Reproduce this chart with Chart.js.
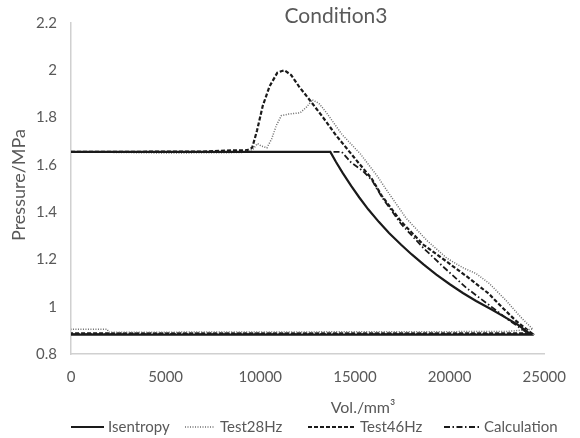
<!DOCTYPE html>
<html>
<head>
<meta charset="utf-8">
<script src="https://cdn.jsdelivr.net/npm/chart.js@4.4.1/dist/chart.umd.min.js"></script>
<style>
  body { margin: 0; background: #fff; }
  canvas { display: block; }
</style>
</head>
<body>
<canvas id="pvChart" width="580" height="438"></canvas>
<script>
// Axis ticks
const volTicks = [0, 5000, 10000, 15000, 20000, 25000];
const presTicks = [0.8, 1, 1.2, 1.4, 1.6, 1.8, 2, 2.2];

// Isentropy (solid)
const isentropyVol = [0, 13700, 14000, 14350, 14800, 15230, 15700, 16260, 16800, 17440, 18000, 18620, 19300, 20010, 20700, 21400, 22200, 22940, 23600, 24300, 0];
const isentropyPres = [1.655, 1.655, 1.612, 1.566, 1.511, 1.462, 1.412, 1.359, 1.312, 1.262, 1.221, 1.179, 1.136, 1.095, 1.058, 1.024, 0.989, 0.955, 0.924, 0.882, 0.882];

// Test 28 Hz (dotted)
const test28Vol = [0, 5000, 9000, 9600, 9850, 10050, 10350, 10600, 10850, 11110, 11500, 12100, 12450, 12750, 13100, 13500, 14300, 15300, 16200, 16700, 17700, 18800, 19860, 20700, 21400, 22070, 22940, 23770, 24400, 23000, 2000, 1900, 0];
const test28Pres = [1.655, 1.65, 1.652, 1.665, 1.69, 1.68, 1.672, 1.71, 1.767, 1.808, 1.815, 1.82, 1.845, 1.875, 1.86, 1.82, 1.73, 1.645, 1.55, 1.49, 1.375, 1.28, 1.205, 1.165, 1.14, 1.10, 1.03, 0.955, 0.905, 0.895, 0.892, 0.905, 0.905];

// Test 46 Hz (dashed)
const test46Vol = [0, 7000, 8500, 9300, 9570, 9830, 10130, 10490, 10900, 11270, 11630, 12040, 12650, 13320, 13990, 15020, 15900, 16410, 17440, 18620, 19860, 21040, 22070, 22740, 23510, 24350, 0];
const test46Pres = [1.655, 1.656, 1.661, 1.662, 1.672, 1.746, 1.85, 1.932, 1.99, 2.0, 1.98, 1.932, 1.87, 1.80, 1.726, 1.625, 1.54, 1.47, 1.36, 1.262, 1.19, 1.12, 1.055, 1.0, 0.94, 0.887, 0.887];

// Calculation (dash-dot)
const calcVol = [0, 14300, 14800, 15400, 15900, 16410, 17440, 18620, 19650, 20880, 22070, 23100, 24200, 0];
const calcPres = [1.655, 1.655, 1.61, 1.575, 1.535, 1.465, 1.35, 1.248, 1.17, 1.08, 1.008, 0.945, 0.884, 0.884];

const seriesNames = ['Isentropy', 'Test28Hz', 'Test46Hz', 'Calculation'];

function toPoints(xs, ys) {
    return xs.map((x, i) => ({ x: x, y: ys[i] }));
}

const textColor = '#595959';
const fontFamily = "Lato, 'Noto Sans', sans-serif";

const lineStyles = [
    { color: '#1a1a1a', width: 2.2, dash: [] },
    { color: '#6e6e6e', width: 1.5, dash: [1, 1.5] },
    { color: '#1a1a1a', width: 2.2, dash: [4, 2] },
    { color: '#1a1a1a', width: 1.8, dash: [6, 2.5, 1.5, 2.5] }
];

// Title, axis titles and legend drawn by hand to match the Excel layout
const decorPlugin = {
    id: 'decor',
    afterDraw(chart) {
        const ctx = chart.ctx;
        ctx.save();
        ctx.fillStyle = textColor;
        ctx.textBaseline = 'middle';
        ctx.textAlign = 'center';

        ctx.font = '21px ' + fontFamily;
        ctx.fillText('Condition3', 336, 16);

        ctx.font = '16px ' + fontFamily;
        ctx.fillText('Vol./mm\u00B3', 363, 408);

        ctx.save();
        ctx.translate(19, 185);
        ctx.rotate(-Math.PI / 2);
        ctx.font = '18px ' + fontFamily;
        ctx.fillText('Pressure/MPa', 0, 0);
        ctx.restore();

        // legend
        const legendY = 427;
        const samples = [[71, 104, 108], [185, 215, 220], [308, 356, 360], [444, 480, 484]];
        ctx.font = '15px ' + fontFamily;
        ctx.textAlign = 'left';
        samples.forEach((s, i) => {
            const st = lineStyles[i];
            ctx.beginPath();
            ctx.strokeStyle = st.color;
            ctx.lineWidth = st.width;
            ctx.setLineDash(st.dash);
            ctx.moveTo(s[0], legendY);
            ctx.lineTo(s[1], legendY);
            ctx.stroke();
            ctx.setLineDash([]);
            ctx.fillText(seriesNames[i], s[2], legendY);
        });
        ctx.restore();
    }
};

const allSeries = [
    toPoints(isentropyVol, isentropyPres),
    toPoints(test28Vol, test28Pres),
    toPoints(test46Vol, test46Pres),
    toPoints(calcVol, calcPres)
];

new Chart(document.getElementById('pvChart').getContext('2d'), {
    type: 'scatter',
    data: {
        datasets: allSeries.map((pts, i) => ({
            label: seriesNames[i],
            data: pts,
            showLine: true,
            borderColor: lineStyles[i].color,
            borderWidth: lineStyles[i].width,
            borderDash: lineStyles[i].dash,
            pointRadius: 0,
            tension: 0,
            fill: false,
            order: i
        }))
    },
    options: {
        responsive: false,
        animation: false,
        layout: {
            padding: { top: 16, right: 23, bottom: 44, left: 0 }
        },
        scales: {
            x: {
                type: 'linear',
                min: 0,
                max: 25000,
                afterBuildTicks: function(scale) {
                    scale.ticks = volTicks.map(v => ({ value: v }));
                },
                afterFit: function(scale) { scale.height = 40; },
                grid: { display: false, drawTicks: false },
                border: { display: true, color: '#d0d0d0', width: 1.5 },
                ticks: {
                    padding: 14,
                    color: textColor,
                    font: { size: 15, family: fontFamily },
                    maxRotation: 0,
                    callback: function(value) {
                        return String(value);
                    }
                }
            },
            y: {
                type: 'linear',
                min: 0.8,
                max: 2.2,
                afterBuildTicks: function(scale) {
                    scale.ticks = presTicks.map(v => ({ value: v }));
                },
                afterFit: function(scale) { scale.width = 71; },
                grid: { display: false, drawTicks: false },
                border: { display: true, color: '#d0d0d0', width: 1.5 },
                ticks: {
                    padding: 14,
                    color: textColor,
                    font: { size: 15, family: fontFamily },
                    callback: function(value) {
                        return Number(value.toFixed(1)).toString();
                    }
                }
            }
        },
        plugins: {
            legend: { display: false },
            title: { display: false },
            tooltip: { enabled: false }
        }
    },
    plugins: [decorPlugin]
});
</script>
</body>
</html>
